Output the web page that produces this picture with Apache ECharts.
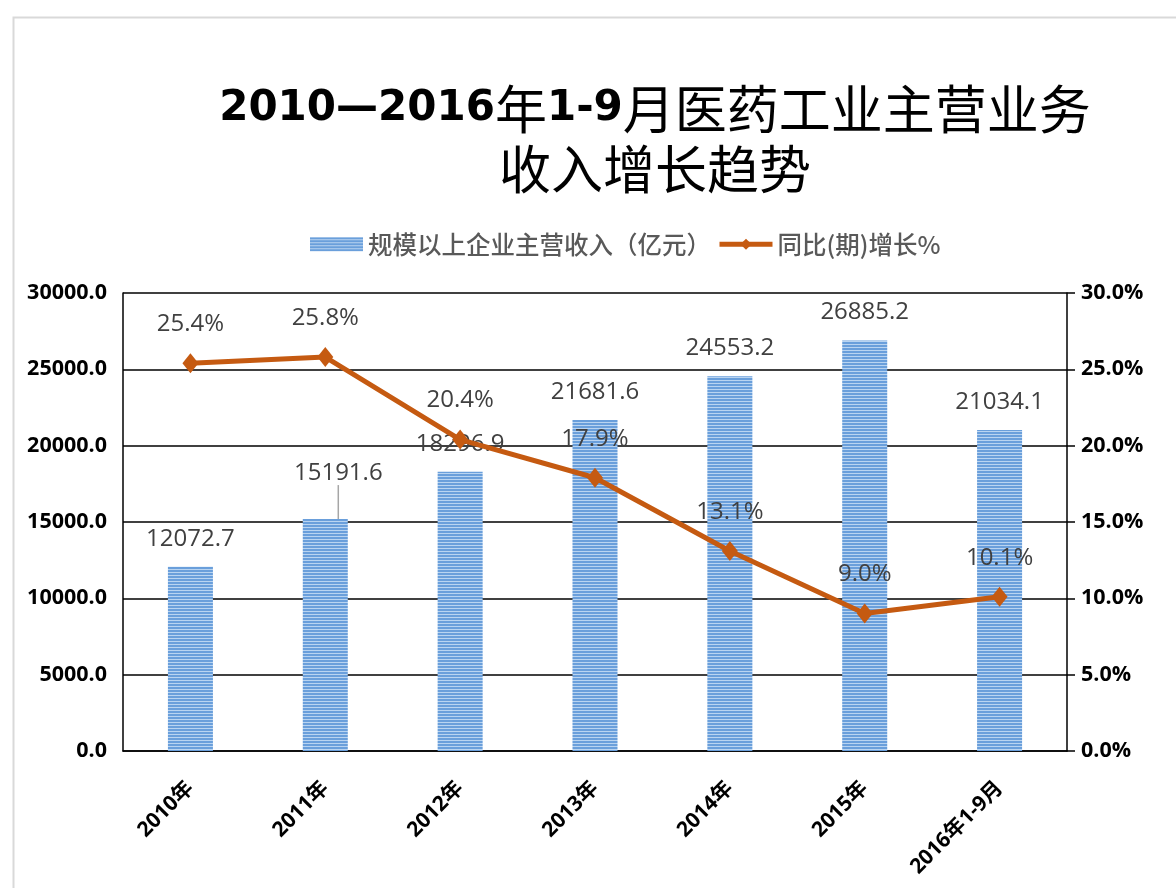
<!DOCTYPE html>
<html>
<head>
<meta charset="utf-8">
<script src="https://cdn.jsdelivr.net/npm/echarts@6/dist/echarts.min.js"></script>
<style>
html,body{margin:0;padding:0;background:#fff;overflow:hidden;}
#main{width:1176px;height:888px;}
</style>
</head>
<body>
<div id="main"></div>
<script>
const categories = ['2010年','2011年','2012年','2013年','2014年','2015年','2016年1-9月'];
const revenue = [12072.7, 15191.6, 18296.9, 21681.6, 24553.2, 26885.2, 21034.1];
const growth = [25.4, 25.8, 20.4, 17.9, 13.1, 9.0, 10.1];
const leftTicks = [0, 5000, 10000, 15000, 20000, 25000, 30000];
const rightTicks = [0, 5, 10, 15, 20, 25, 30];
const seriesNames = ['规模以上企业主营收入（亿元）', '同比(期)增长%'];

// striped fill pattern
const pc = document.createElement('canvas');
pc.width = 4; pc.height = 3;
const pctx = pc.getContext('2d');
pctx.fillStyle = '#6a9fdb'; pctx.fillRect(0,0,4,2);
pctx.fillStyle = '#b9d4f1'; pctx.fillRect(0,2,4,1);
const stripe = {image: pc, repeat: 'repeat'};

const numFont = '"Open Sans","Noto Sans CJK SC",sans-serif';
const cjkFont = '"Noto Sans CJK SC","Noto Sans",sans-serif';
const titleNum = '"DejaVu Sans","Noto Sans CJK SC",sans-serif';

const chart = echarts.init(document.getElementById('main'));
chart.setOption({
  animation: false,
  backgroundColor: '#fff',
  graphic: [{
    type: 'rect', left: 11, top: 15,
    shape: {width: 1300, height: 1000},
    style: {fill: 'none', stroke: '#d9d9d9', lineWidth: 2}
  }],
  title: {
    text: '{b|2010—2016}{n|年}{b|1-9}{n|月医药工业主营业务}\n{n|收入增长趋势}',
    left: 650, top: 74, textAlign: 'center',
    textStyle: {
      rich: {
        b: {fontFamily: titleNum, fontSize: 42, fontWeight: 'bold', color: '#000', lineHeight: 60},
        n: {fontFamily: cjkFont, fontSize: 52, fontWeight: 'normal', color: '#000', lineHeight: 60}
      }
    }
  },
  legend: {
    left: 305, top: 227,
    itemWidth: 53, itemHeight: 14, itemGap: 6,
    textStyle: {fontFamily: cjkFont, fontSize: 24.5, fontWeight: 500, color: '#595959'},
    data: [
      {name: seriesNames[0], icon: 'rect'},
      {name: seriesNames[1], lineStyle: {width: 5, color: '#c55a11'}}
    ]
  },
  grid: {left: 123, right: 109, top: 293, bottom: 137},
  xAxis: {
    type: 'category', data: categories,
    axisLine: {lineStyle: {color: '#000', width: 1.5}},
    axisTick: {show: false},
    axisLabel: {rotate: 45, margin: 34, fontFamily: numFont, fontWeight: 'bold', fontSize: 21, color: '#000', interval: 0}
  },
  yAxis: [{
    type: 'value', min: 0, max: 30000, interval: 5000,
    axisLine: {show: true, lineStyle: {color: '#000', width: 1.5}},
    axisTick: {show: false},
    splitLine: {lineStyle: {color: '#000', width: 1.5}},
    axisLabel: {margin: 16, fontFamily: numFont, fontWeight: 'bold', fontSize: 21.5, color: '#000',
      formatter: v => v.toFixed(1)}
  }, {
    type: 'value', min: 0, max: 30, interval: 5,
    axisLine: {show: true, lineStyle: {color: '#000', width: 1.5}},
    axisTick: {show: true, length: 8, lineStyle: {color: '#000', width: 1.5}},
    splitLine: {show: false},
    axisLabel: {margin: 14, fontFamily: numFont, fontWeight: 'bold', fontSize: 21.5, color: '#000',
      formatter: v => v.toFixed(1) + '%'}
  }],
  series: [{
    name: seriesNames[0], type: 'bar', yAxisIndex: 0,
    barWidth: 45,
    itemStyle: {color: stripe},
    label: {show: true, position: 'top', distance: 16, fontFamily: numFont, fontSize: 24, color: '#404040',
      formatter: p => p.value.toFixed(1)},
    labelLine: {show: false, lineStyle: {color: '#a6a6a6', width: 1}},
    labelLayout: p => p.dataIndex === 1 ? {dx: 13, dy: -18} : {},
    data: revenue.map((v, i) => i === 1 ? {value: v, labelLine: {show: true, lineStyle: {color: '#a6a6a6', width: 1.5}}} : v)
  }, {
    name: seriesNames[1], type: 'line', yAxisIndex: 1,
    symbol: 'diamond', symbolSize: [16, 20],
    lineStyle: {color: '#c55a11', width: 5},
    itemStyle: {color: '#c55a11'},
    label: {show: true, position: 'top', distance: 17, fontFamily: numFont, fontSize: 24, color: '#404040',
      formatter: p => p.value.toFixed(1) + '%'},
    data: growth
  }]
});
</script>
</body>
</html>
